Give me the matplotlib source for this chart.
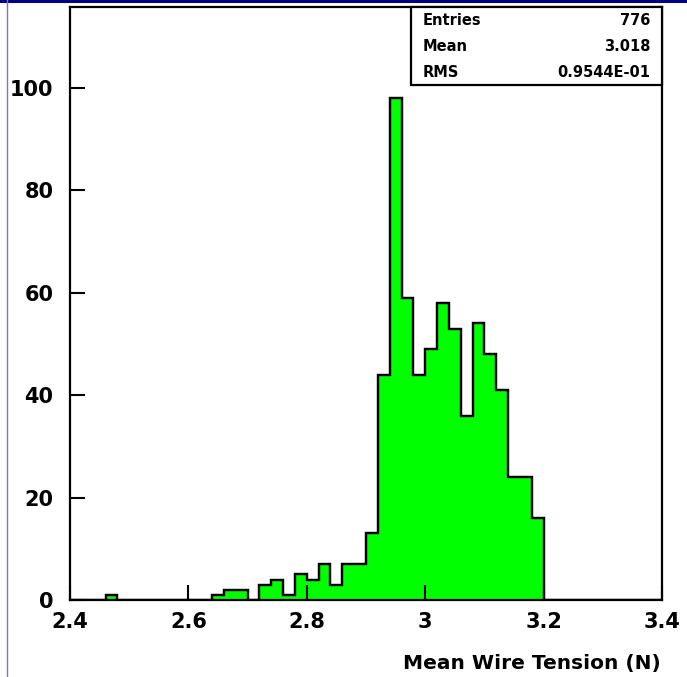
import numpy as np
import matplotlib
matplotlib.use("Agg")
import matplotlib.pyplot as plt
from matplotlib.lines import Line2D
from matplotlib.patches import Rectangle

# Histogram of mean wire tension, 50 bins of 0.02 N between 2.4 and 3.4
bin_edges = np.linspace(2.4, 3.4, 51)
counts = [0, 0, 0, 1, 0, 0, 0, 0, 0, 0,
          0, 0, 1, 2, 2, 0, 3, 4, 1, 5,
          4, 7, 3, 7, 7, 13, 44, 98, 59, 44,
          49, 58, 53, 36, 54, 48, 41, 24, 24, 16,
          0, 0, 0, 0, 0, 0, 0, 0, 0, 0]

x_ticks = [2.4, 2.6, 2.8, 3.0, 3.2, 3.4]
x_tick_labels = ["2.4", "2.6", "2.8", "3", "3.2", "3.4"]
y_ticks = [0, 20, 40, 60, 80, 100]

stats_names = ["Entries", "Mean", "RMS"]
stats_values = ["776", "3.018", "0.9544E-01"]

plt.rcParams['font.family'] = 'DejaVu Sans'
plt.rcParams['font.weight'] = 'bold'

fig = plt.figure(figsize=(6.87, 6.77), dpi=100)
ax = fig.add_axes([70 / 687, 77 / 677, 592 / 687, 593 / 677])

ax.stairs(counts, bin_edges, fill=True, facecolor='#00ff00',
          edgecolor='black', linewidth=1.6, baseline=0)
ax.stairs(counts, bin_edges, fill=False, color='black', linewidth=1.6, baseline=0)

ax.set_xlim(2.4, 3.4)
ax.set_ylim(0, 115.8)
ax.set_xticks(x_ticks)
ax.set_xticklabels(x_tick_labels)
ax.set_yticks(y_ticks)

for side in ax.spines.values():
    side.set_linewidth(1.6)

ax.tick_params(axis='both', direction='in', length=11, width=1.5,
               labelsize=15, top=False, right=False)
ax.tick_params(axis='y', pad=12)
ax.tick_params(axis='x', pad=9)
for lbl in ax.get_xticklabels() + ax.get_yticklabels():
    lbl.set_fontweight('bold')

# axis title sits right-aligned under the axis
fig.text(661 / 687, 1 - 664 / 677, "Mean Wire Tension (N)", fontsize=14.5,
         fontweight='bold', ha='right', va='center')

# statistics box in the upper right corner
ax.add_patch(Rectangle((0.576, 0.8685), 0.424, 0.1315, transform=ax.transAxes,
                       facecolor='white', edgecolor='black', linewidth=1.6,
                       zorder=5, clip_on=False))
row_y = [0.978, 0.934, 0.890]
for name, val, yy in zip(stats_names, stats_values, row_y):
    ax.text(0.596, yy, name, transform=ax.transAxes, fontsize=10.5,
            fontweight='bold', ha='left', va='center', zorder=6)
    ax.text(0.98, yy, val, transform=ax.transAxes, fontsize=10.5,
            fontweight='bold', ha='right', va='center', zorder=6)

# page frame lines
fig.add_artist(Line2D([0, 1], [0.998, 0.998], transform=fig.transFigure,
                      color='#000080', linewidth=2.2))
fig.add_artist(Line2D([6.5 / 687, 6.5 / 687], [0, 1], transform=fig.transFigure,
                      color='#7777c8', linewidth=1.0))

fig.savefig("out.png", dpi=100, facecolor='white')
